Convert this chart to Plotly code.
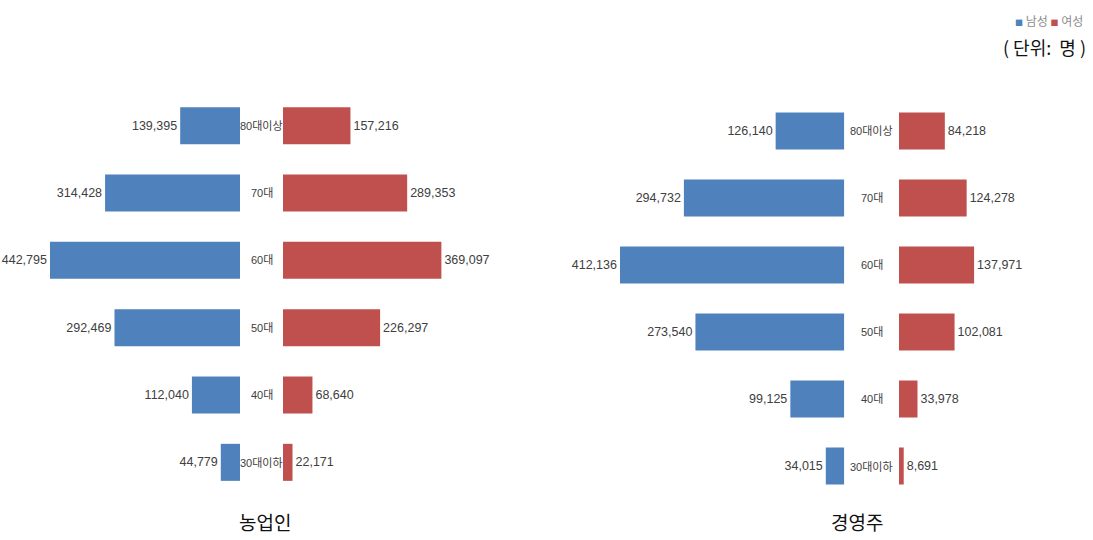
import plotly.graph_objects as go

categories = ['30대이하', '40대', '50대', '60대', '70대', '80대이상']
farmer_male = [44779, 112040, 292469, 442795, 314428, 139395]
farmer_female = [22171, 68640, 226297, 369097, 289353, 157216]
owner_male = [34015, 99125, 273540, 412136, 294732, 126140]
owner_female = [8691, 33978, 102081, 137971, 124278, 84218]
panel_titles = ['농업인', '경영주']
series_names = ['남성', '여성']

W, H = 1093, 540
BLUE = '#4F81BD'
RED = '#C0504D'
TXT = '#404040'
NUMFONT = 'Liberation Sans, Arial, Noto Sans CJK KR'

def px(a, b):
    return [a / W, b / W]

def py(top, bottom):
    return [1 - bottom / H, 1 - top / H]

fig = go.Figure()

def add_bar(vals, color, xa, ya, name, showlegend):
    fig.add_trace(go.Bar(
        y=categories, x=vals, orientation='h', name=name,
        marker=dict(color=color, line=dict(width=0)),
        xaxis=xa, yaxis=ya, showlegend=showlegend,
        texttemplate='%{x:,}', textposition='outside',
        textfont=dict(family=NUMFONT, size=12.5, color=TXT),
        cliponaxis=False, width=0.55,
    ))

add_bar(farmer_male, BLUE, 'x', 'y', series_names[0], False)
add_bar(farmer_female, RED, 'x2', 'y2', series_names[1], False)
add_bar(owner_male, BLUE, 'x3', 'y3', series_names[0], False)
add_bar(owner_female, RED, 'x4', 'y4', series_names[1], False)

# scales: left panel 190px for max value, right panel 224px for max value
lmax = max(farmer_male + farmer_female)
rmax = max(owner_male + owner_female)
left_scale = lmax / 190.0
right_scale = rmax / 224.3

hidden = dict(visible=False, showgrid=False, zeroline=False, fixedrange=True)
ycat = dict(showgrid=False, zeroline=False, showticklabels=False, ticks='',
            type='category', categoryorder='array', categoryarray=categories,
            range=[-0.5, 5.5], showline=False)

fig.update_layout(
    width=W, height=H,
    margin=dict(l=0, r=0, t=0, b=0),
    paper_bgcolor='white', plot_bgcolor='rgba(0,0,0,0)',
    barmode='overlay', showlegend=False,
    xaxis=dict(domain=px(50, 240), range=[190 * left_scale, 0], anchor='y', **hidden),
    xaxis2=dict(domain=px(283, 473), range=[0, 190 * left_scale], anchor='y2', **hidden),
    xaxis3=dict(domain=px(620, 844.3), range=[224.3 * right_scale, 0], anchor='y3', **hidden),
    xaxis4=dict(domain=px(899, 1093), range=[0, 194 * right_scale], anchor='y4', **hidden),
    yaxis=dict(domain=py(92, 496), anchor='x', **ycat),
    yaxis2=dict(domain=py(92, 496), anchor='x2', **ycat),
    yaxis3=dict(domain=py(97.5, 499.5), anchor='x3', **ycat),
    yaxis4=dict(domain=py(97.5, 499.5), anchor='x4', **ycat),
)

annotations = []
for cat in categories:
    annotations.append(dict(x=261.5 / W, xref='paper', y=cat, yref='y', text=cat,
                            showarrow=False, xanchor='center', yanchor='middle',
                            font=dict(family=NUMFONT, size=11, color=TXT)))
    annotations.append(dict(x=871.5 / W, xref='paper', y=cat, yref='y3', text=cat,
                            showarrow=False, xanchor='center', yanchor='middle',
                            font=dict(family=NUMFONT, size=11, color=TXT)))

annotations.append(dict(x=265 / W, y=1 - 521 / H, xref='paper', yref='paper',
                        text=panel_titles[0], showarrow=False, xanchor='center', yanchor='middle',
                        font=dict(family='Noto Sans CJK KR', size=19, color='#111111')))
annotations.append(dict(x=857 / W, y=1 - 521 / H, xref='paper', yref='paper',
                        text=panel_titles[1], showarrow=False, xanchor='center', yanchor='middle',
                        font=dict(family='Noto Sans CJK KR', size=19, color='#111111')))

legend_text = (f"<span style='color:{BLUE};font-size:8px'>■</span> {series_names[0]} "
               f"<span style='color:{RED};font-size:8px'>■</span> {series_names[1]}")
annotations.append(dict(x=1085 / W, y=1 - 21 / H, xref='paper', yref='paper',
                        text=legend_text, showarrow=False, xanchor='right', yanchor='middle',
                        font=dict(family='Noto Sans CJK KR', size=12, color='#8c8c8c')))
annotations.append(dict(x=1088 / W, y=1 - 47 / H, xref='paper', yref='paper',
                        text='( 단위:&nbsp;&nbsp;명 )', showarrow=False, xanchor='right', yanchor='middle',
                        font=dict(family='Noto Sans CJK KR', size=18, color='#111111')))

fig.update_layout(annotations=annotations)

fig.write_html('out.html')
